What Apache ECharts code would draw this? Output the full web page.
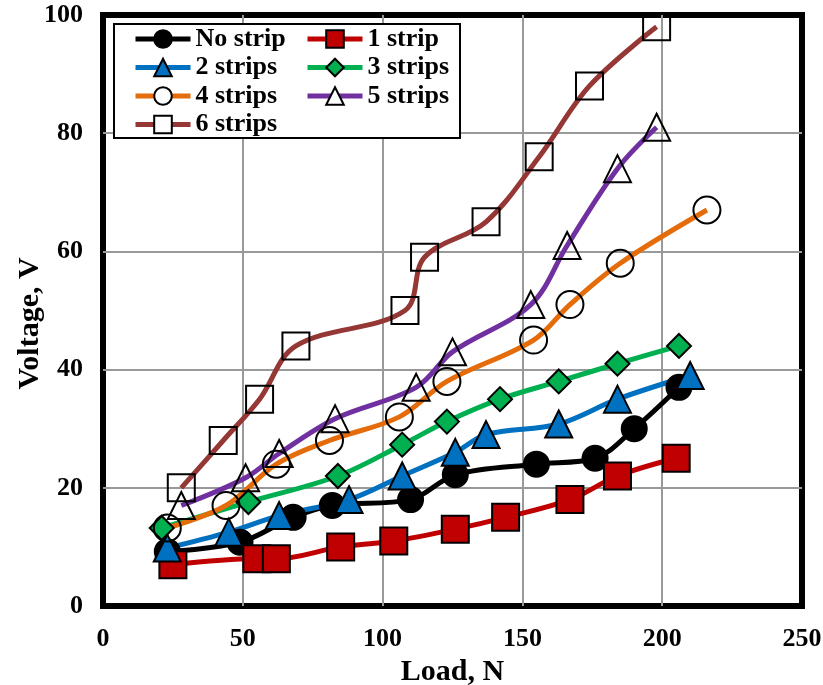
<!DOCTYPE html>
<html>
<head>
<meta charset="utf-8">
<script src="https://cdn.jsdelivr.net/npm/echarts@6/dist/echarts.min.js"></script>
<style>
  html, body { margin: 0; padding: 0; background: #fff; }
  #main { width: 823px; height: 685px; }
</style>
</head>
<body>
<div id="main"></div>
<script>
// values (Load in N, Voltage in V)
var noStripX = [23, 49, 68, 82, 110, 126, 155, 176, 190, 206];
var noStripY = [9.2, 10.8, 15, 17, 18, 22.2, 24, 25, 30, 37];
var strip1X = [25, 55, 62, 85, 104, 126, 144, 167, 184, 205];
var strip1Y = [7, 8, 8, 10, 11, 13, 15, 18, 22, 25];
var strip2X = [23, 45, 63, 88, 107, 126, 137, 163, 184, 210];
var strip2Y = [9.8, 12.5, 15.3, 18, 22, 26, 29, 30.8, 35, 39];
var strip3X = [21, 52, 84, 107, 123, 142, 163, 184, 206];
var strip3Y = [13.2, 17.6, 22, 27.3, 31.2, 35, 38, 41, 44];
var strip4X = [23, 44, 62, 81, 106, 123, 154, 167, 185, 216];
var strip4Y = [13.2, 17, 24, 28, 32, 38, 45, 51, 58, 67];
var strip5X = [28, 51, 63, 83, 112, 125, 153, 166, 184, 198];
var strip5Y = [17, 21.7, 25.8, 31.7, 37, 43, 51, 61, 74, 81];
var strip6X = [28, 43, 56, 69, 108, 115, 137, 156, 174, 198];
var strip6Y = [20, 28, 35, 44, 50, 59, 65, 76, 88, 98];

var names = ['No strip', '1 strip', '2 strips', '3 strips', '4 strips', '5 strips', '6 strips'];

var font = 'Liberation Serif';

function zip(xs, ys) {
  return xs.map(function (x, i) { return [x, ys[i]]; });
}

function mk(name, xs, ys, lineColor, symbol, size, fill) {
  return {
    name: name,
    type: 'line',
    data: zip(xs, ys),
    smooth: 0.35,
    symbol: symbol,
    symbolSize: size,
    lineStyle: { color: lineColor, width: 5 },
    itemStyle: { color: fill, borderColor: '#000', borderWidth: 2 },
    emphasis: { disabled: true }
  };
}

var chart = echarts.init(document.getElementById('main'));

var legendText = { fontFamily: font, fontWeight: 'bold', fontSize: 26, color: '#000' };

var option = {
  backgroundColor: '#fff',
  animation: false,
  grid: {
    left: 103, right: 21, top: 15, bottom: 79,
    outerBoundsMode: 'none', containLabel: false,
    show: true, borderColor: '#000', borderWidth: 6
  },
  graphic: [{
    type: 'rect', left: 113, top: 23, z: 3,
    shape: { width: 346, height: 114 },
    style: { fill: '#fff', stroke: '#000', lineWidth: 2 }
  }],
  legend: [{
    left: 128, top: 21, orient: 'vertical',
    itemWidth: 55, itemHeight: 22, itemGap: 2.5,
    lineStyle: { width: 5 },
    textStyle: legendText,
    data: [
      { name: 'No strip' },
      { name: '2 strips' },
      { name: '4 strips', itemStyle: { color: '#fff' } },
      { name: '6 strips', itemStyle: { color: '#fff' } }
    ]
  }, {
    left: 300, top: 21, orient: 'vertical',
    itemWidth: 55, itemHeight: 22, itemGap: 2.5,
    lineStyle: { width: 5 },
    textStyle: legendText,
    data: [
      { name: '1 strip' },
      { name: '3 strips' },
      { name: '5 strips', itemStyle: { color: '#fff' } }
    ]
  }],
  xAxis: {
    type: 'value', min: 0, max: 250, interval: 50,
    name: 'Load, N', nameLocation: 'middle', nameGap: 46,
    nameTextStyle: { fontFamily: font, fontWeight: 'bold', fontSize: 30, color: '#000' },
    axisLine: { show: false }, axisTick: { show: false },
    axisLabel: { margin: 20, fontFamily: font, fontWeight: 'bold', fontSize: 26, color: '#000' },
    splitLine: { show: true, showMinLine: false, showMaxLine: false, lineStyle: { color: '#999', width: 2 } }
  },
  yAxis: {
    type: 'value', min: 0, max: 100, interval: 20,
    name: 'Voltage, V', nameLocation: 'middle', nameGap: 58, nameMoveOverlap: false,
    nameTextStyle: { fontFamily: font, fontWeight: 'bold', fontSize: 30, color: '#000', padding: [0, 26, 0, 0] },
    axisLine: { show: false }, axisTick: { show: false },
    axisLabel: { margin: 20, fontFamily: font, fontWeight: 'bold', fontSize: 26, color: '#000' },
    splitLine: { show: true, showMinLine: false, showMaxLine: false, lineStyle: { color: '#999', width: 2 } }
  },
  series: [
    mk(names[0], noStripX, noStripY, '#000000', 'circle', 25, '#000000'),
    mk(names[1], strip1X, strip1Y, '#C00000', 'rect', 27, '#C00000'),
    mk(names[2], strip2X, strip2Y, '#0070C0', 'triangle', 27, '#0070C0'),
    mk(names[3], strip3X, strip3Y, '#00B050', 'diamond', 24, '#00B050'),
    mk(names[4], strip4X, strip4Y, '#E46C0A', 'circle', 27, 'transparent'),
    mk(names[5], strip5X, strip5Y, '#7030A0', 'triangle', 27, 'transparent'),
    mk(names[6], strip6X, strip6Y, '#953735', 'rect', 27, 'transparent')
  ]
};

chart.setOption(option);
</script>
</body>
</html>
